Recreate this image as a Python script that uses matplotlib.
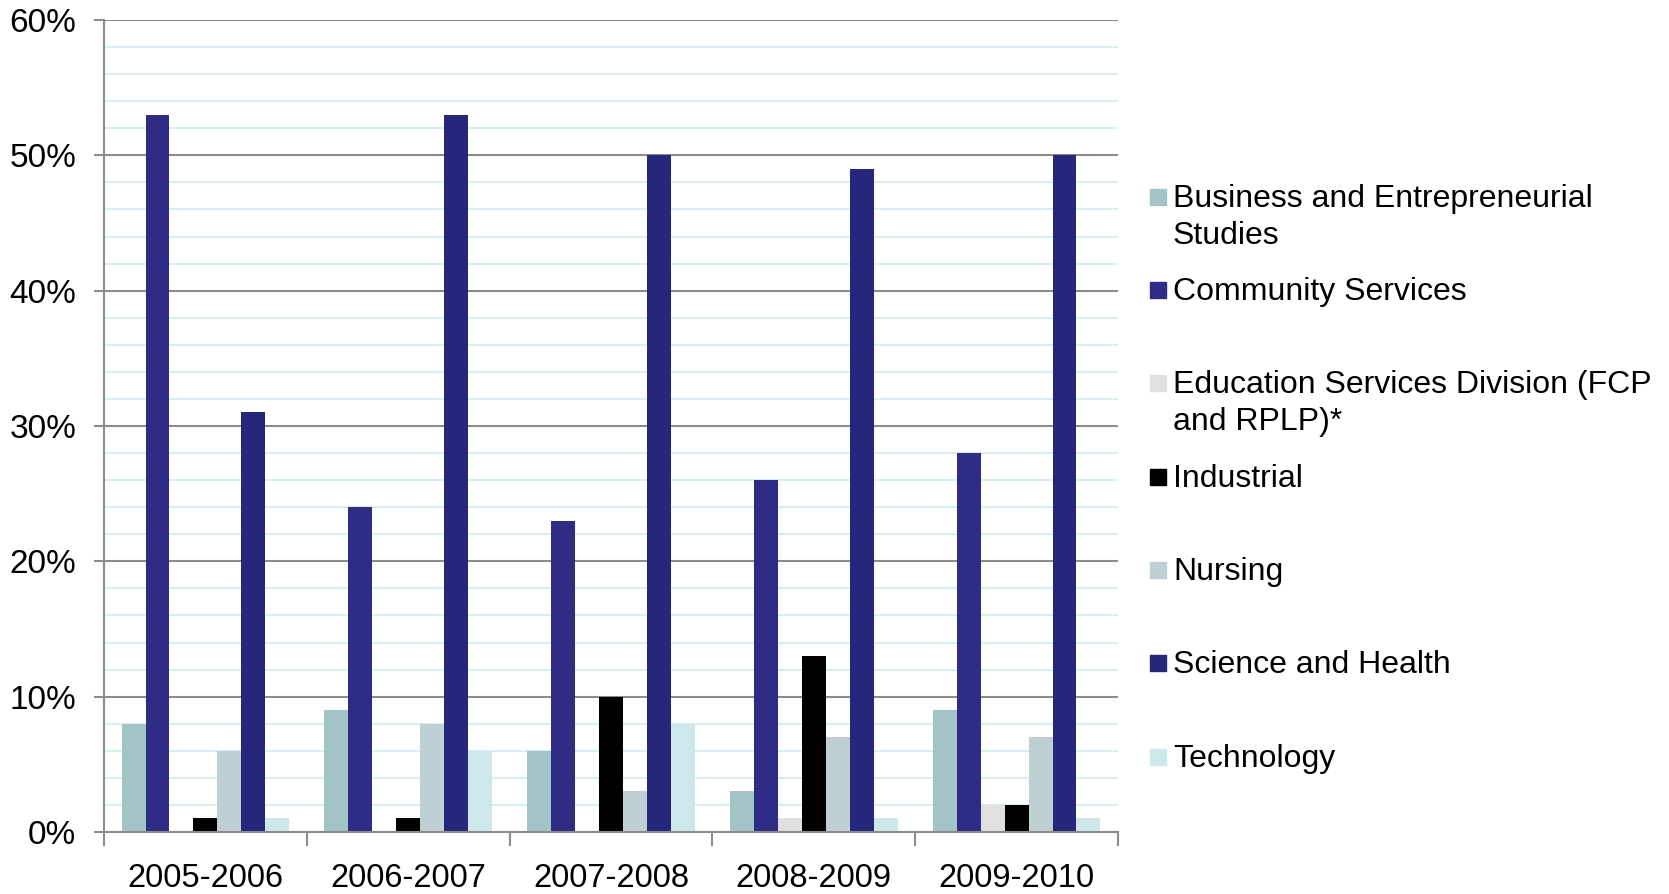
import matplotlib.pyplot as plt
import numpy as np
from matplotlib.patches import Rectangle

plt.rcParams['font.family'] = ['Liberation Sans', 'DejaVu Sans']

years = ['2005-2006', '2006-2007', '2007-2008', '2008-2009', '2009-2010']
series = ['Business and Entrepreneurial\nStudies', 'Community Services',
          'Education Services Division (FCP\nand RPLP)*', 'Industrial', 'Nursing',
          'Science and Health', 'Technology']
business = [8, 9, 6, 3, 9]
community = [53, 24, 23, 26, 28]
education = [0, 0, 0, 1, 2]
industrial = [1, 1, 10, 13, 2]
nursing = [6, 8, 3, 7, 7]
science = [31, 53, 50, 49, 50]
technology = [1, 6, 8, 1, 1]
colors = ['#a3c4c6', '#2e2c85', '#e0e0e0', '#000000', '#bfd0d4', '#26267a', '#cde8eb']

values = [business, community, education, industrial, nursing, science, technology]

fig = plt.figure(figsize=(16.69, 8.94), dpi=100)
ax = fig.add_axes([0.0623, 0.0694, 0.6076, 0.9082])

x = np.arange(len(years))
w = 0.118
for i, (vals, c) in enumerate(zip(values, colors)):
    ax.bar(x + (i - 3) * w, vals, w, color=c, zorder=3)

ax.set_xlim(-0.5, len(years) - 0.5)
ax.set_ylim(0, 60)
ax.set_yticks(range(0, 61, 10))
ax.set_yticklabels([f'{v}%' for v in range(0, 61, 10)], fontsize=24)
ax.set_yticks(range(0, 61, 2), minor=True)
ax.grid(axis='y', which='minor', color='#d8eff2', linewidth=1.5, zorder=0)
ax.grid(axis='y', which='major', color='#8c8c8c', linewidth=1.5, zorder=1)
ax.tick_params(axis='y', which='major', length=7, width=1.5, color='#8c8c8c', pad=13)
ax.tick_params(axis='y', which='minor', length=0)

ax.set_xticks(x)
ax.set_xticklabels(years, fontsize=23.5)
ax.set_xticks(np.arange(-0.5, len(years), 1), minor=True)
ax.tick_params(axis='x', which='major', length=0, pad=22)
ax.tick_params(axis='x', which='minor', length=10, width=1.5, color='#8c8c8c')

for s in ['top', 'right']:
    ax.spines[s].set_visible(False)
for s in ['left', 'bottom']:
    ax.spines[s].set_color('#8c8c8c')
    ax.spines[s].set_linewidth(1.5)
    ax.spines[s].set_zorder(4)

# legend
W, H = 1669, 894
ys = [197, 290, 383, 477, 570, 663, 757]
for lab, c, y in zip(series, colors, ys):
    fig.add_artist(Rectangle((1150 / W, 1 - (y + 8) / H), 16 / W, 16 / H,
                             color=c, transform=fig.transFigure))
    fig.text(1173 / W, 1 - (y - 13) / H, lab, fontsize=23, va='top',
             ha='left', linespacing=1.3)

fig.savefig('out.png', dpi=100)
